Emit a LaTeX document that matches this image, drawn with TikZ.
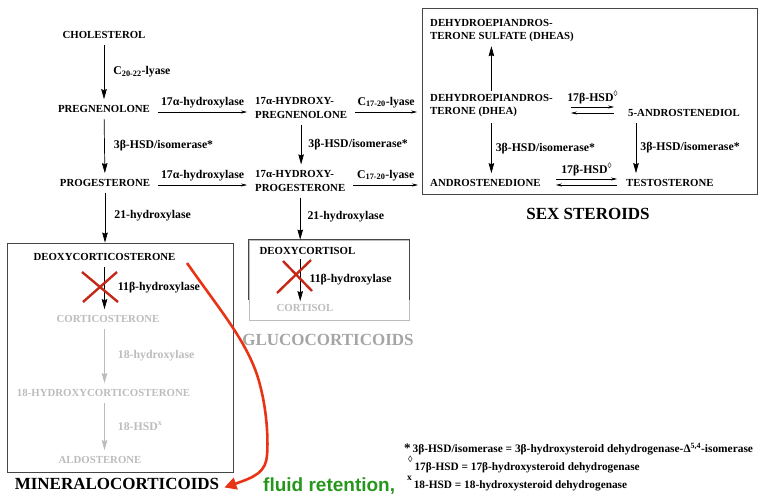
\documentclass[tikz,border=0pt]{standalone}
\usepackage{fontspec}
\setmainfont{Liberation Serif}
\newfontfamily\notesans{Liberation Sans}
\usetikzlibrary{arrows.meta,calc}
\definecolor{fadegray}{RGB}{188,188,188}
\definecolor{classgray}{RGB}{165,165,165}
\definecolor{crossred}{RGB}{196,40,22}
\definecolor{curvered}{RGB}{232,52,20}
\definecolor{notegreen}{RGB}{38,150,28}
\definecolor{boxline}{RGB}{70,70,70}
\newcommand{\dmark}{\raisebox{5pt}{\fontsize{8}{8}\selectfont ◊}}
\newcommand{\xmark}{\raisebox{5pt}{\fontsize{8}{8}\selectfont x}}

\begin{document}
\begin{tikzpicture}[x=1pt,y=-1pt,
  cmpd/.style={font=\bfseries\fontsize{10.8}{13.5}\selectfont, inner sep=2pt},
  cmpd2/.style={cmpd, align=left, anchor=west},
  enz/.style={font=\bfseries\fontsize{11.8}{14}\selectfont, inner sep=1pt},
  faded/.style={text=fadegray},
  varr/.style={line width=0.7pt, -{Stealth[length=10pt,width=5.5pt,inset=1pt]}, shorten <=4pt, shorten >=4pt},
  harr/.style={line width=0.6pt, -{Stealth[length=6pt,width=3pt]}},
  frame/.style={draw=boxline, line width=0.8pt, inner sep=0pt},
  classlbl/.style={font=\bfseries\fontsize{17}{17}\selectfont, inner sep=0pt, anchor=base},
  cross/.style={draw=crossred, line width=2.4pt},
  note/.style={font=\bfseries\fontsize{11.3}{13}\selectfont, anchor=base west, inner sep=0pt},
  widenote/.style={font=\bfseries\fontsize{11.4}{13}\selectfont, anchor=base west, inner sep=0pt}
]
\useasboundingbox (0,0) rectangle (781,495);

% frames around the three hormone classes
\node[frame, minimum width=226pt, minimum height=229pt] (mbox) at (120,357.5) {};
\node[frame, draw=fadegray, minimum width=160pt, minimum height=80pt] (gbox) at (329,280) {};
\draw[boxline, line width=0.8pt] ([yshift=20pt]gbox.south west) -- (gbox.north west) -- (gbox.north east) -- ([yshift=20pt]gbox.south east);
\node[frame, minimum width=335pt, minimum height=186pt] (sbox) at (589.5,101) {};

% compounds
\node[cmpd] (chol) at (104,35) {CHOLESTEROL};
\node[cmpd] (preg) at (104,109) {PREGNENOLONE};
\node[cmpd] (prog) at (105,183) {PROGESTERONE};
\node[cmpd2] (ohpreg) at (253,108) {17α-HYDROXY-\\PREGNENOLONE};
\node[cmpd2] (ohprog) at (253,181) {17α-HYDROXY-\\PROGESTERONE};
\node[cmpd2] (dheas) at (428,30.5) {DEHYDROEPIANDROS-\\TERONE SULFATE (DHEAS)};
\node[cmpd2] (dhea) at (428,105.5) {DEHYDROEPIANDROS-\\TERONE (DHEA)};
\node[cmpd, anchor=west] (adiol) at (626,113) {5-ANDROSTENEDIOL};
\node[cmpd, anchor=west] (adione) at (428,183) {ANDROSTENEDIONE};
\node[cmpd, anchor=west] (testo) at (624,183) {TESTOSTERONE};
\node[cmpd] (dcs) at (104.5,257) {DEOXYCORTICOSTERONE};
\node[cmpd, faded] (cs) at (108,319) {CORTICOSTERONE};
\node[cmpd, faded] (ohcs) at (103.5,393) {18-HYDROXYCORTICOSTERONE};
\node[cmpd, faded] (aldo) at (100,460) {ALDOSTERONE};
\node[cmpd] (dcol) at (307.5,251) {DEOXYCORTISOL};
\node[cmpd, faded] (cortisol) at (305,308) {CORTISOL};

% class labels
\node[classlbl] (mlabel) at (117,489) {MINERALOCORTICOIDS};
\node[classlbl, text=classgray] (glabel) at (328,345) {GLUCOCORTICOIDS};
\node[classlbl] (slabel) at (588,219) {SEX STEROIDS};

% main vertical steps
\draw[varr] (chol) -- (preg) node[enz, midway, right=8pt] {C\textsubscript{20-22}-lyase};
\draw[varr] (preg) -- (prog) node[enz, midway, right=8pt] {3β-HSD/isomerase*};
\draw[varr, shorten >=0pt] (prog) -- (prog |- mbox.north) node[enz, midway, right=8pt] {21-hydroxylase};
\draw[varr] (ohpreg.south) -- (ohpreg.south |- ohprog.north) node[enz, midway, right=6pt] {3β-HSD/isomerase*};
\draw[varr, shorten >=0pt] (ohprog.south) -- (ohprog.south |- gbox.north) node[enz, midway, right=6pt] {21-hydroxylase};

% mineralocorticoid branch
\draw[varr] (dcs.south) -- (dcs.south |- cs.north) node[enz, midway, right=12pt] {11β-hydroxylase};
\draw[varr, fadegray] (cs.south -| dcs.south) -- (dcs.south |- ohcs.north) node[enz, faded, midway, right=12pt] {18-hydroxylase};
\draw[varr, fadegray] (ohcs.south -| dcs.south) -- (dcs.south |- aldo.north) node[enz, faded, midway, right=12pt] {18-HSD\xmark};

% glucocorticoid branch
\draw[varr, shorten <=2pt, shorten >=1pt] (ohprog.south |- dcol.south) -- (ohprog.south |- cortisol.north) node[enz, midway, right=8pt] {11β-hydroxylase};

% horizontal steps
\draw[harr] ($(preg.east)+(6,3)$) -- ($(preg.east -| ohpreg.west)+(-6,3)$) node[enz, midway, above=3pt] {17α-hydroxylase};
\draw[harr] ($(prog.east)+(6,2)$) -- ($(prog.east -| ohprog.west)+(-6,2)$) node[enz, midway, above=3pt] {17α-hydroxylase};
\draw[harr] ($(ohpreg.east)+(6,4)$) -- ($(ohpreg.east -| dhea.west)+(-11,4)$) node[enz, midway, above=3pt] {C\textsubscript{17-20}-lyase};
\draw[harr] ($(ohprog.east)+(6,4)$) -- ($(ohprog.east -| adione.west)+(-10,4)$) node[enz, midway, above=3pt] {C\textsubscript{17-20}-lyase};

% sex steroid interconversions
\draw[varr, shorten <=1pt, shorten >=2pt] (dhea.north) -- (dhea.north |- dheas.south);
\draw[varr] (dhea.south) -- (dhea.south |- adione.north) node[enz, midway, right=3pt] {3β-HSD/isomerase*};
\draw[varr] ([xshift=10pt]adiol.south west) -- ([xshift=10pt]adiol.south west |- testo.north) node[enz, midway, right=3pt] {3β-HSD/isomerase*};
\draw[harr] ($(dhea.east)+(16,1.5)$) -- ($(dhea.east -| adiol.west)+(-12,1.5)$) node[enz, midway, above=2pt] {17β-HSD\dmark};
\draw[harr] ($(dhea.east -| adiol.west)+(-12,7.5)$) -- ($(dhea.east)+(16,7.5)$);
\draw[harr] ($(adione.east)+(13,-4)$) -- ($(adione.east -| testo.west)+(-7,-4)$) node[enz, midway, above=2pt] {17β-HSD\dmark};
\draw[harr] ($(adione.east -| testo.west)+(-7,2)$) -- ($(adione.east)+(13,2)$);

% blocked 11beta-hydroxylase steps
\draw[cross] (82,272) -- (118,302) (83,302) -- (117,272);
\draw[cross] (283,261) -- (312,291) (311,260) -- (277,293);

% deoxycorticosterone excess acts as a mineralocorticoid
\coordinate (dcsout) at (187,263);
\coordinate (mtip) at ($(mlabel.east)+(5,4)$);
\draw[curvered, line width=2.6pt, -{Triangle[length=12pt,width=12pt]}]
  (dcsout) .. controls (222,313) and (250,345) .. (260,385)
  .. controls (268,415) and (268,445) .. (267,455)
  .. controls (266,472) and (255,477) .. (mtip);
\node[font=\notesans\bfseries\fontsize{19}{20}\selectfont, text=notegreen, anchor=base west, inner sep=0pt] (fluid) at (263,491) {fluid retention,};

% footnotes
\node[widenote] (fn1) at (404,452) {{\fontsize{13}{13}\selectfont *}\,3β-HSD/isomerase = 3β-hydroxysteroid dehydrogenase-Δ\textsuperscript{5,4}-isomerase};
\node[note] (fn2) at (408,470) {\raisebox{8pt}{\fontsize{9}{9}\selectfont ◊}\,17β-HSD = 17β-hydroxysteroid dehydrogenase};
\node[note] (fn3) at (407,488) {\raisebox{8pt}{\fontsize{9.5}{9.5}\selectfont x}\,18-HSD = 18-hydroxysteroid dehydrogenase};
\end{tikzpicture}
\end{document}
